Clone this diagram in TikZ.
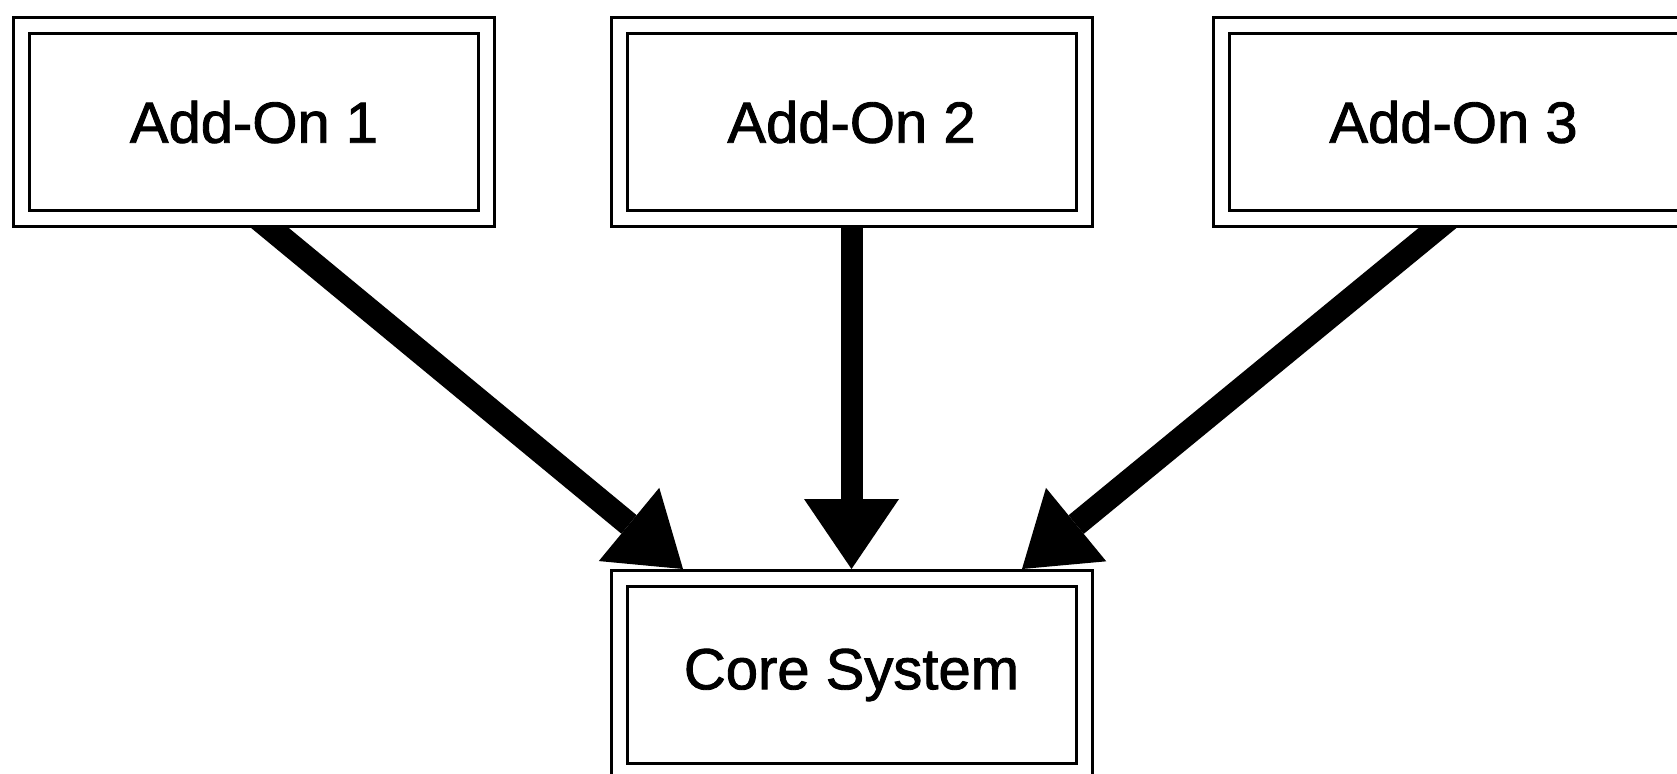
\documentclass[tikz,border=0pt]{standalone}
\usepackage{fontspec}
\setmainfont{Liberation Sans}
\newfontfamily\boxfont{Liberation Sans}[FakeBold=1.5]
\usetikzlibrary{arrows.meta,backgrounds}

\begin{document}
\begin{tikzpicture}[x=1pt, y=-1pt,
    box/.style={draw, fill=white, line width=3pt, double, double distance=13pt,
        minimum width=465pt, minimum height=193pt, inner sep=0pt, outer sep=9.5pt,
        font=\boxfont\fontsize{58}{70}\selectfont},
    bigarrow/.style={line width=22pt, shorten <=-15pt,
        -{Triangle[length=70pt, width=95pt, line width=0pt]}}]
    \useasboundingbox (0,0) rectangle (1677,773);

    % add-ons on top, core below
    \node[box] (addon1) at (254,122) {Add-On 1};
    \node[box] (addon2) at (851.5,122) {Add-On 2};
    \node[box] (addon3) at (1453.5,122) {Add-On 3};
    \node[box] (core) at (851.5,675) {Core System};

    \begin{scope}[on background layer]
        \draw[bigarrow, line width=24pt] ([xshift=16pt]addon1.south) -- ([xshift=-168.5pt]core.north);
        \draw[bigarrow] (addon2.south) -- (core.north);
        \draw[bigarrow, line width=24pt] ([xshift=-16pt]addon3.south) -- ([xshift=170.5pt]core.north);
    \end{scope}
\end{tikzpicture}
\end{document}
